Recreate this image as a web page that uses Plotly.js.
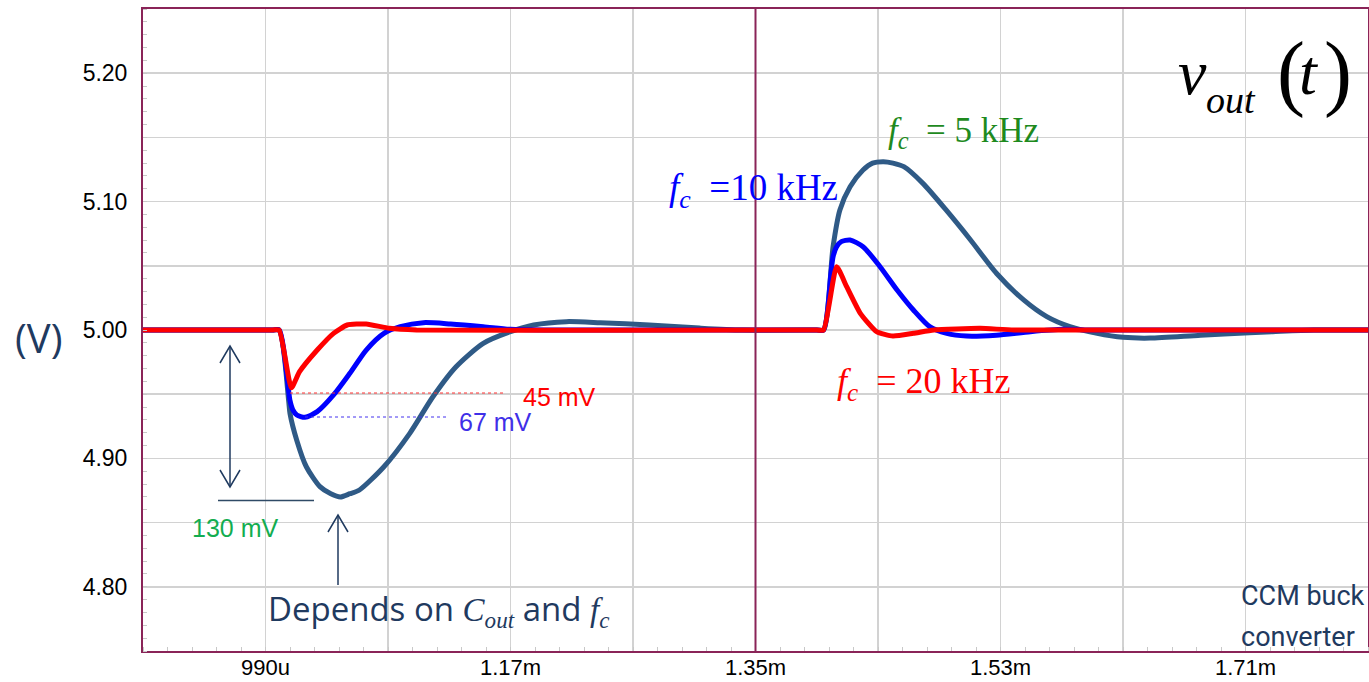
<!DOCTYPE html>
<html><head><meta charset="utf-8">
<script src="https://cdn.plot.ly/plotly-3.0.1.min.js"></script>
<style>html,body{margin:0;padding:0;background:#fff;overflow:hidden}</style>
</head><body><div id="chart" style="width:1369px;height:682px"></div>
<script>
// time in microseconds, voltage in volts
const t5k = [900,995,1000,1007,1008,1013,1020,1030,1038,1045,1052,1059,1077,1096,1113,1130,1150,1170,1187,1211,1236,1272,1309,1340,1395,1400,1407,1412,1419.5,1429,1436,1444,1451,1459,1473,1490,1508,1527,1547,1564,1581,1601,1620,1640,1677,1713,1730,1760,1800];
const v5k = [5.000,5.000,5.000,4.945,4.935,4.914,4.8935,4.878,4.8725,4.870,4.8725,4.8754,4.8935,4.9195,4.948,4.9714,4.9896,4.9987,5.0039,5.0065,5.0057,5.0039,5.0015,5.000,5.000,5.000,5.065,5.0935,5.1116,5.1246,5.130,5.1311,5.130,5.1272,5.1142,5.0935,5.0701,5.0442,5.0234,5.0104,5.0026,4.9974,4.9943,4.9937,4.996,4.9979,4.9987,5.000,5.000];

const t10k = [900,995,1000,1008,1010,1013,1019,1028,1040,1052,1064,1077,1089,1106,1126,1150,1170,1200,1395,1400,1405.5,1407,1409.6,1413,1419.5,1429,1441.5,1454,1466,1478,1490.5,1505,1527,1552,1576,1600,1800];
const v10k = [5.000,5.000,5.000,4.945,4.938,4.9338,4.932,4.9364,4.9494,4.9663,4.9844,4.9974,5.0026,5.0057,5.0047,5.0026,5.0005,5.000,5.000,5.000,5.045,5.0571,5.0649,5.0688,5.0701,5.0649,5.0493,5.0312,5.0156,5.0026,4.9974,4.9953,4.996,4.9987,5.0005,5.000,5.000];

const t20k = [900,995,1000,1009,1015,1028,1040,1050,1064,1081,1101,1395,1400,1409.6,1417,1427,1439,1451,1466,1481,1515,1540,1800];
const v20k = [5.000,5.000,5.000,4.955,4.9675,4.9844,4.9974,5.0039,5.0047,5.0013,5.000,5.000,5.000,5.0493,5.0337,5.013,4.9987,4.9953,4.9974,5.000,5.0013,5.000,5.000];

const xTickVals = [990,1080,1170,1260,1350,1440,1530,1620,1710];
const xTickText = ['990u','','1.17m','','1.35m','','1.53m','','1.71m'];
const yTickVals = [4.80,4.85,4.90,4.95,5.00,5.05,5.10,5.15,5.20];
const yTickText = ['4.80','','4.90','','5.00','','5.10','','5.20'];

// pixel helpers for annotation placement
const X = px => 900 + (px - 143) / 1.3611;
const Y = py => 5.25 - (py - 9) / 1284;

const navy = '#1f3a5f';
const maroon = '#8a2458';
const serif = 'Liberation Serif, Times New Roman, serif';
const sans = 'Liberation Sans, Arial, sans-serif';
const calib = 'Open Sans, sans-serif';

// detect narrow font availability
function hasFont(name){
  const c = document.createElement('canvas').getContext('2d');
  c.font = '40px monospace'; const a = c.measureText('CCM buck converter').width;
  c.font = '40px "' + name + '", monospace'; const b = c.measureText('CCM buck converter').width;
  return Math.abs(a - b) > 1;
}
const narrowFont = hasFont('Liberation Sans Narrow') ? {family:'Liberation Sans Narrow', size:32, color:navy}
                 : {family:'Roboto, sans-serif', size:27, color:navy};

const sp = {shape:'spline', smoothing:0.7, width:5};
const traces = [
  {x: t5k, y: v5k, mode: 'lines', line: Object.assign({color: '#2f5a86'}, sp), hoverinfo: 'skip'},
  {x: t10k, y: v10k, mode: 'lines', line: Object.assign({color: '#0000ff'}, sp), hoverinfo: 'skip'},
  {x: t20k, y: v20k, mode: 'lines', line: Object.assign({color: '#ff0000'}, sp, {smoothing:0.5}), hoverinfo: 'skip'}
];

function line(x0,y0,x1,y1,color,width,dash){
  return {type:'line', xref:'x', yref:'y', x0:X(x0), y0:Y(y0), x1:X(x1), y1:Y(y1),
          line:{color:color, width:width, dash:dash||'solid'}, layer:'above'};
}
function path(pts,color,width){
  let d = pts.map((p,i)=>(i?'L':'M')+X(p[0])+','+Y(p[1])).join(' ');
  return {type:'path', xref:'x', yref:'y', path:d, line:{color:color,width:width}, layer:'above'};
}

const shapes = [
  {type:'line', xref:'x', yref:'paper', x0:1350, x1:1350, y0:0, y1:1, line:{color:maroon,width:2}, layer:'above'},
  {type:'line', xref:'paper', yref:'y', x0:0, x1:1, y0:5.0, y1:5.0, line:{color:'#7a1a4a',width:1}, layer:'between'},
  line(290,393,505,393,'#ff3030',1,'dot'),
  line(305,417,447,417,'#4433ee',1,'dot'),
  line(230,346,230,487,navy,1.5),
  path([[220,363],[230,346],[240,363]],navy,1.5),
  path([[220,470],[230,487],[240,470]],navy,1.5),
  line(218,500.5,314,500.5,'#2f4a66',1.5),
  line(338,585,338,515,navy,1.5),
  path([[328,532],[338,515],[348,532]],navy,1.5)
];

function ann(text,px,py,font,xanchor){
  return {text:text, x:X(px), y:Y(py), xref:'x', yref:'y', showarrow:false,
          xanchor:xanchor||'left', yanchor:'middle', font:font};
}

const annotations = [
  {text:'(V)', xref:'paper', yref:'paper', x:(38-143)/1225, y:(651-337)/642, showarrow:false,
   xanchor:'center', yanchor:'middle', font:{family:calib, size:40, color:navy}},
  ann('<i>v</i>',1176,72,{family:serif,size:64,color:'#000'}),
  ann('<i>out</i>',1204,100,{family:serif,size:38,color:'#000'}),
  ann('(',1275,72,{family:serif,size:84,color:'#000'}),
  ann('<i>t</i>',1297,72,{family:serif,size:64,color:'#000'}),
  ann(')',1322,72,{family:serif,size:84,color:'#000'}),
  ann('<i>f</i><sub><i>c</i></sub>&nbsp;&nbsp;=&nbsp;5 kHz',886,132,{family:serif,size:35,color:'#1e8a1e'}),
  ann('<i>f</i><sub><i>c</i></sub>&nbsp; =10 kHz',667,190,{family:serif,size:37,color:'#0000ff'}),
  ann('<i>f</i><sub><i>c</i></sub>&nbsp; = 20 kHz',835,383,{family:serif,size:36,color:'#ff0000'}),
  ann('45 mV',521,397,{family:sans,size:25,color:'#ff0000'}),
  ann('67 mV',457,422,{family:sans,size:25,color:'#3f2fe8'}),
  ann('130 mV',190,528,{family:sans,size:25,color:'#13ad50'}),
  ann('Depends on <span style="font-family:Liberation Serif"><i>C</i><sub><i>out</i></sub></span> and <span style="font-family:Liberation Serif"><i>f</i><sub><i>c</i></sub></span>',266,609,{family:calib,size:33,color:navy}),
  ann('CCM buck',1239,596,narrowFont),
  ann('converter',1239,637,narrowFont)
];

const layout = {
  width:1369, height:682,
  margin:{l:143, r:1, t:9, b:31, pad:0},
  paper_bgcolor:'#fff', plot_bgcolor:'#fff',
  showlegend:false,
  xaxis:{range:[900,1800], tickmode:'array', tickvals:xTickVals, ticktext:xTickText,
    showgrid:true, gridcolor:'#d2d2d2', gridwidth:1.5, zeroline:false,
    showline:true, linecolor:maroon, linewidth:2, mirror:true, ticks:'',
    ticklabelstandoff:-4,
    tickfont:{family:sans, size:22, color:'#000'},
    minor:{tick0:900, dtick:18, ticks:'inside', ticklen:4, tickcolor:'#c8c8c8', tickwidth:1, showgrid:false}},
  yaxis:{range:[4.75,5.25], tickmode:'array', tickvals:yTickVals, ticktext:yTickText,
    showgrid:true, gridcolor:'#d2d2d2', gridwidth:1.5, zeroline:false,
    showline:true, linecolor:maroon, linewidth:2, mirror:true, ticks:'',
    ticklabelstandoff:9,
    tickfont:{family:sans, size:23, color:'#000'},
    minor:{tick0:4.75, dtick:0.01, ticks:'inside', ticklen:4, tickcolor:'#c8c8c8', tickwidth:1, showgrid:false}},
  shapes:shapes,
  annotations:annotations
};

Plotly.newPlot('chart', traces, layout, {staticPlot:true, displayModeBar:false});
</script>
</body></html>
